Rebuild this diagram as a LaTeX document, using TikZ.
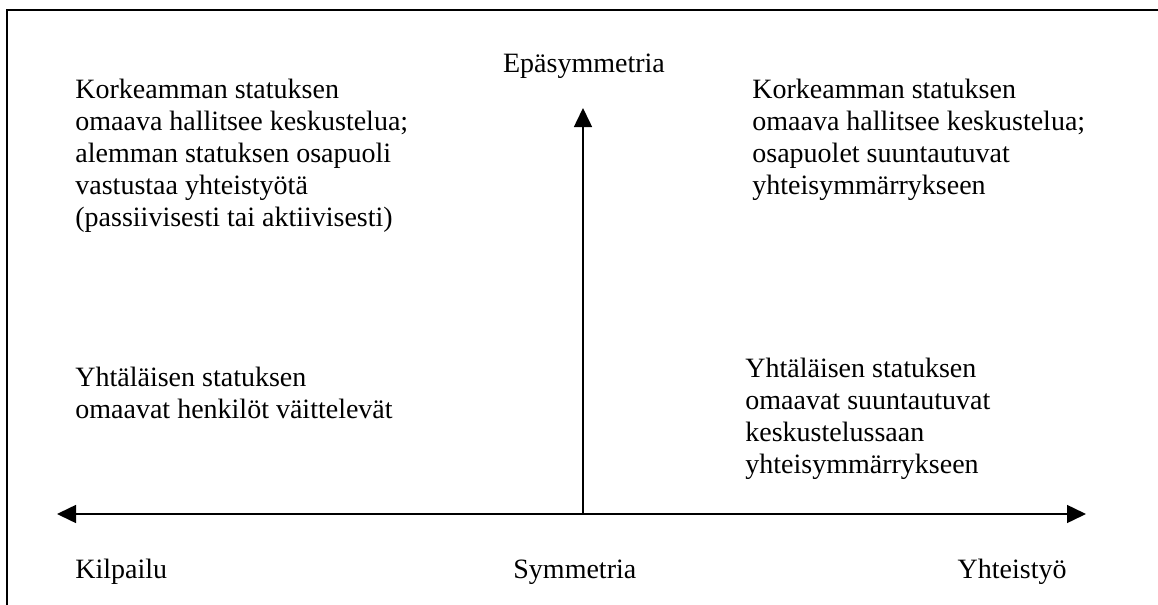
\documentclass[tikz,border=0pt]{standalone}
\usepackage{fontspec}
\setmainfont{Liberation Serif}
\usetikzlibrary{arrows.meta}
\begin{document}
\begin{tikzpicture}[x=0.5pt,y=-0.5pt,
  frameline/.style={line width=1pt,line cap=rect},
  axis/.style={line width=0.75pt},
  tip/.style={-{Triangle[length=9.5pt,width=9pt]}},
  both/.style={{Triangle[length=9.5pt,width=9pt]}-{Triangle[length=9.5pt,width=9pt]}},
  block/.style={anchor=north west,inner sep=0pt,align=left,font=\fontsize{14}{16}\selectfont},
  label/.style={inner sep=0pt,font=\fontsize{14}{16}\selectfont}]
\useasboundingbox (0,0) rectangle (1158,605);
% frame (left and top edges)
\draw[frameline] (7,605) -- (7,10) -- (1158,10);
% axes
\coordinate (W) at (57,514);
\coordinate (E) at (1086,514);
\coordinate (O) at (583,514);
\coordinate (N) at (583,108);
\draw[axis,both] (W) -- (E);
\draw[axis,tip] (O) -- (N);
% axis labels
\node[label,anchor=base] (top) at (584,72) {Epäsymmetria};
\node[label,anchor=base west] (left) at (75,578) {Kilpailu};
\node[label,anchor=base west] (mid) at (513,578) {Symmetria};
\node[label,anchor=base east] (right) at (1067,578) {Yhteistyö};
% quadrant descriptions
\node[block] (q1) at (75,79) {Korkeamman statuksen\\omaava hallitsee keskustelua;\\alemman statuksen osapuoli\\vastustaa yhteistyötä\\(passiivisesti tai aktiivisesti)};
\node[block] (q2) at (752,79) {Korkeamman statuksen\\omaava hallitsee keskustelua;\\osapuolet suuntautuvat\\yhteisymmärrykseen};
\node[block] (q3) at (75,367) {Yhtäläisen statuksen\\omaavat henkilöt väittelevät};
\node[block] (q4) at (745,358) {Yhtäläisen statuksen\\omaavat suuntautuvat\\keskustelussaan\\yhteisymmärrykseen};
\end{tikzpicture}
\end{document}
